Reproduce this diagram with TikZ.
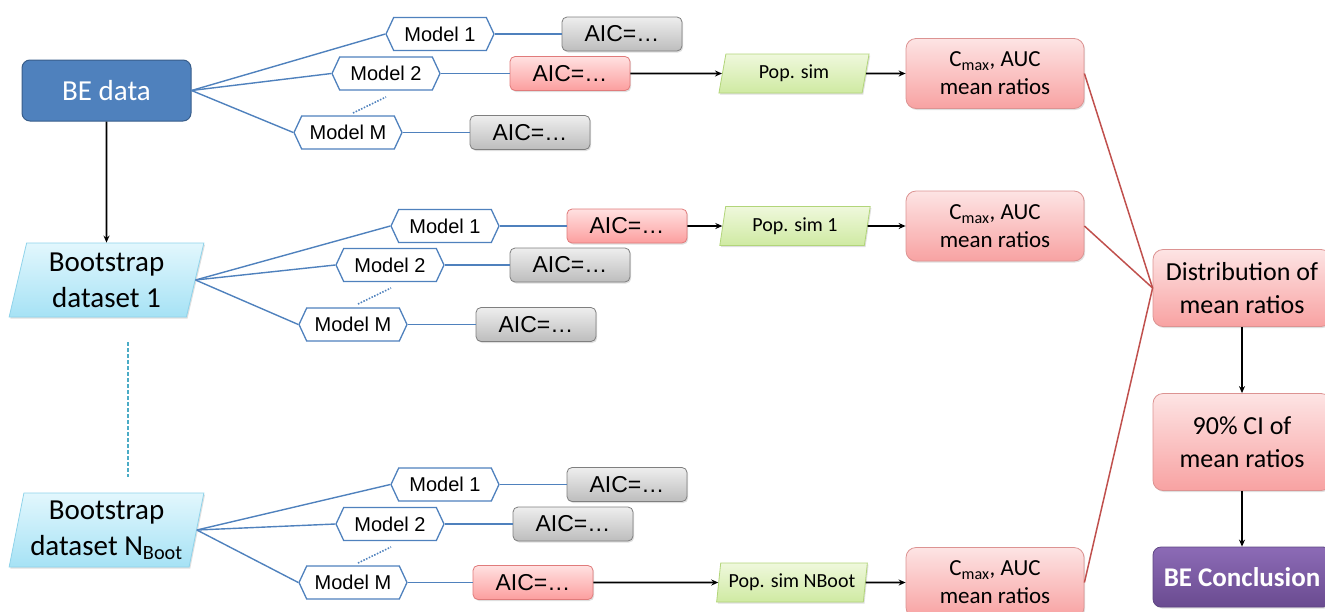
\documentclass[tikz,border=0pt]{standalone}
\usepackage{fontspec}
\setmainfont{Carlito}
\newfontfamily\arialf{Liberation Sans}
\usetikzlibrary{shapes.geometric,shapes.symbols,arrows.meta,shadows}
\definecolor{beblue}{HTML}{4F81BD}
\definecolor{beborder}{HTML}{385D8A}
\definecolor{lineblue}{HTML}{4F81BD}
\definecolor{redline}{HTML}{C0504D}
\definecolor{dashteal}{HTML}{4BACC6}
\definecolor{bootT}{HTML}{E2F7FD}
\definecolor{bootB}{HTML}{A6E2F5}
\definecolor{bootD}{HTML}{8FD3EA}
\definecolor{grayT}{HTML}{EEEEEE}
\definecolor{grayB}{HTML}{BDBDBD}
\definecolor{grayD}{HTML}{7F7F7F}
\definecolor{redT}{HTML}{FFE1E1}
\definecolor{redB}{HTML}{FC9E9E}
\definecolor{redD}{HTML}{E07B7B}
\definecolor{greenT}{HTML}{EFF8DC}
\definecolor{greenB}{HTML}{CFEAA2}
\definecolor{greenD}{HTML}{B2D57A}
\definecolor{pinkT}{HTML}{FDE4E4}
\definecolor{pinkB}{HTML}{F8A2A2}
\definecolor{pinkD}{HTML}{DC9392}
\definecolor{purpT}{HTML}{8C6BB6}
\definecolor{purpB}{HTML}{6A4B90}
\definecolor{purpD}{HTML}{5E4682}
\begin{document}
\begin{tikzpicture}[x=1pt,y=-1pt,
  shad/.style={drop shadow={opacity=0.25, shadow xshift=1.2pt, shadow yshift=-1.5pt}},
  bedata/.style={rectangle, rounded corners=8pt, fill=beblue, draw=beborder, line width=1pt,
     minimum width=169pt, minimum height=61pt, inner sep=0pt, text=white, font=\fontsize{29}{33}\selectfont},
  bootbox/.style={trapezium, trapezium left angle=77, trapezium right angle=103, trapezium stretches=true,
     top color=bootT, bottom color=bootB, draw=bootD, line width=0.8pt, shad,
     minimum width=195pt, minimum height=74pt, inner sep=0pt, align=center, font=\fontsize{29}{36}\selectfont},
  modelbox/.style={signal, signal to=west and east, signal pointer angle=130, draw=lineblue, line width=1.3pt,
     fill=white, minimum width=108pt, minimum height=33pt, inner sep=0pt, font=\arialf\fontsize{20}{23}\selectfont},
  aicgray/.style={rectangle, rounded corners=5pt, top color=grayT, bottom color=grayB, shad,
     draw=grayD, line width=0.8pt, minimum width=120pt, minimum height=34pt, inner sep=0pt,
     font=\arialf\fontsize{23}{26}\selectfont},
  aicred/.style={aicgray, top color=redT, bottom color=redB, draw=redD},
  popbox/.style={trapezium, trapezium left angle=78, trapezium right angle=102, trapezium stretches=true,
     top color=greenT, bottom color=greenB, draw=greenD, line width=0.8pt, shad,
     minimum width=151pt, minimum height=39pt, inner sep=0pt, font=\fontsize{20}{23}\selectfont},
  pinkbox/.style={rectangle, rounded corners=10pt, top color=pinkT, bottom color=pinkB, shad,
     draw=pinkD, line width=0.8pt, minimum width=178pt, inner sep=0pt, align=center},
  cmaxbox/.style={pinkbox, minimum height=70pt, font=\fontsize{23}{28}\selectfont},
  bigpink/.style={pinkbox, font=\fontsize{26}{33}\selectfont},
  purplebox/.style={rectangle, rounded corners=8pt, top color=purpT, bottom color=purpB, shad,
     draw=purpD, line width=0.8pt, minimum width=178pt, minimum height=60pt, inner sep=0pt,
     text=white, font=\bfseries\fontsize{27}{31}\selectfont},
  bline/.style={draw=lineblue, line width=1.4pt},
  dotline/.style={draw=lineblue, line width=1.6pt, dash pattern=on 1.5pt off 1.5pt},
  arr/.style={draw=black, line width=1.6pt, -{Stealth[length=7pt,width=6pt]}},
  rline/.style={draw=redline, line width=1.5pt}
]
\useasboundingbox (0,0) rectangle (1325,611);

% left column
\node[bedata] (be) at (106.5,90.5) {BE data};
\node[bootbox] (b1) at (106.5,280) {Bootstrap\\dataset 1};
\node[bootbox] (bN) at (106.5,530) {Bootstrap\\dataset N\textsubscript{Boot}};
\draw[arr] (be.south) -- (b1.north);
\coordinate (dA) at (128,342);
\coordinate (dB) at (128,477);
\draw[draw=dashteal, line width=1.6pt, dash pattern=on 4pt off 2pt] (dA) -- (dB);

% top group
\node[modelbox] (m11) at (440,34) {Model 1};
\node[modelbox] (m12) at (386,73.5) {Model 2};
\node[modelbox] (m1M) at (348,132.5) {Model M};
\node[aicgray] (a11) at (622,34) {AIC=…};
\node[aicred] (a12) at (570,73.5) {AIC=…};
\node[aicgray] (a1M) at (530,132.5) {AIC=…};
\node[popbox] (p1) at (794,73.5) {Pop. sim};
\node[cmaxbox] (c1) at (995,73.5) {C\textsubscript{max}, AUC\\mean ratios};
\foreach \m in {m11,m12,m1M} \draw[bline] (be.east) -- (\m.west);
\draw[bline] (m11.east) -- (a11.west);
\draw[bline] (m12.east) -- (a12.west);
\draw[bline] (m1M.east) -- (a1M.west);
\coordinate (t1a) at (353,113); \coordinate (t1b) at (386,97);
\draw[dotline] (t1a) -- (t1b);
\draw[arr] (a12.east) -- (p1.west);
\draw[arr] (p1.east) -- (c1.west);

% middle group
\node[modelbox] (m21) at (445,226) {Model 1};
\node[modelbox] (m22) at (390,265) {Model 2};
\node[modelbox] (m2M) at (353,324.5) {Model M};
\node[aicred] (a21) at (627,226) {AIC=…};
\node[aicgray] (a22) at (570,265) {AIC=…};
\node[aicgray] (a2M) at (536,324.5) {AIC=…};
\node[popbox] (p2) at (795,226) {Pop. sim 1};
\node[cmaxbox] (c2) at (995,226) {C\textsubscript{max}, AUC\\mean ratios};
\foreach \m in {m21,m22,m2M} \draw[bline] (b1.east) -- (\m.west);
\draw[bline] (m21.east) -- (a21.west);
\draw[bline] (m22.east) -- (a22.west);
\draw[bline] (m2M.east) -- (a2M.west);
\coordinate (t2a) at (358,304); \coordinate (t2b) at (391,288);
\draw[dotline] (t2a) -- (t2b);
\draw[arr] (a21.east) -- (p2.west);
\draw[arr] (p2.east) -- (c2.west);

% bottom group
\node[modelbox] (m31) at (445,484.5) {Model 1};
\node[modelbox] (m32) at (390,524) {Model 2};
\node[modelbox] (m3M) at (353,582.5) {Model M};
\node[aicgray] (a31) at (627,484.5) {AIC=…};
\node[aicgray] (a32) at (573,524) {AIC=…};
\node[aicred] (a3M) at (533,582.5) {AIC=…};
\node[popbox] (p3) at (792,582.5) {Pop. sim NBoot};
\node[cmaxbox] (c3) at (995,582.5) {C\textsubscript{max}, AUC\\mean ratios};
\foreach \m in {m31,m32,m3M} \draw[bline] (bN.east) -- (\m.west);
\draw[bline] (m31.east) -- (a31.west);
\draw[bline] (m32.east) -- (a32.west);
\draw[bline] (m3M.east) -- (a3M.west);
\coordinate (t3a) at (358,563); \coordinate (t3b) at (391,547);
\draw[dotline] (t3a) -- (t3b);
\draw[arr] (a3M.east) -- (p3.west);
\draw[arr] (p3.east) -- (c3.west);

% right column
\node[bigpink, minimum height=77pt] (dist) at (1242,288) {Distribution of\\mean ratios};
\node[bigpink, minimum height=97pt] (ci) at (1242,442) {90\% CI of\\mean ratios};
\node[purplebox] (bec) at (1242,577) {BE Conclusion};
\draw[rline] (c1.east) -- (dist.west);
\draw[rline] (c2.east) -- (dist.west);
\draw[rline] (c3.east) -- (dist.west);
\draw[arr] (dist.south) -- (ci.north);
\draw[arr] (ci.south) -- (bec.north);
\end{tikzpicture}
\end{document}
